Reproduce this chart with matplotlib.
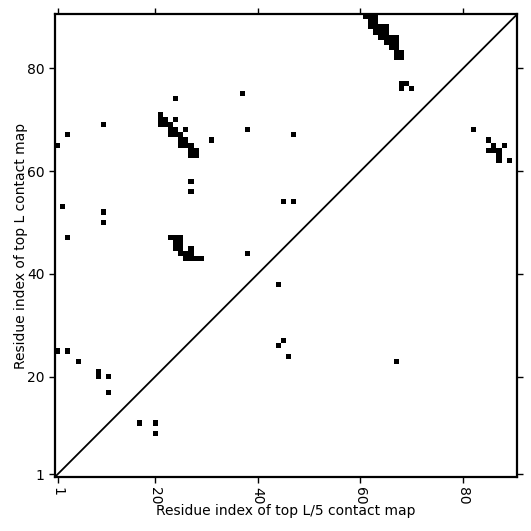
import numpy as np
import matplotlib
matplotlib.use('Agg')
import matplotlib.pyplot as plt

L = 90

# (x, y) residue pairs of the contact cells
cells_x = [1, 3, 10, 24, 37, 38, 31, 26, 24, 47, 45, 47, 27, 27, 2, 10, 10, 3, 38,
           1, 3, 5, 9, 9, 11, 11, 17, 20, 20, 44, 45, 44, 46, 67,
           82, 85, 86, 88, 85, 86, 87, 87, 87, 89,
           68, 69, 68, 70]
cells_y = [65, 67, 69, 74, 75, 68, 66, 68, 70, 67, 54, 54, 58, 56, 53, 52, 50, 47, 44,
           25, 25, 23, 21, 20, 20, 17, 11, 11, 9, 38, 27, 26, 24, 23,
           68, 66, 65, 65, 64, 64, 64, 63, 62, 62,
           77, 77, 76, 76]

# diagonal bands, one row (y) with its x cells
band_rows = {
    71: [21], 70: [21, 22], 69: [21, 22, 23], 68: [23, 24], 67: [23, 24, 25],
    66: [25, 26], 65: [25, 26, 27], 64: [27, 28], 63: [27, 28],
    47: [23, 24, 25], 46: [24, 25], 45: [24, 25, 27], 44: [25, 26, 27], 43: [26, 27, 28, 29],
    90: [61, 62, 63], 89: [62, 63], 88: [62, 63, 64, 65], 87: [63, 64, 65],
    86: [64, 65, 66, 67], 85: [65, 66, 67], 84: [66, 67], 83: [67, 68], 82: [67, 68],
}

cmap_mat = np.zeros((L, L))
for x, y in zip(cells_x, cells_y):
    cmap_mat[y - 1, x - 1] = 1
for y, xs in band_rows.items():
    for x in xs:
        cmap_mat[y - 1, x - 1] = 1

fig = plt.figure(figsize=(5.31, 5.31), dpi=100)
ax = fig.add_axes([0.1036, 0.1019, 0.87, 0.871])
ax.imshow(cmap_mat, cmap='Greys', origin='lower', interpolation='nearest',
          extent=(0.5, L + 0.5, 0.5, L + 0.5), vmin=0, vmax=1, aspect='auto')
ax.plot([0, L + 1], [0, L + 1], color='black', lw=1.3)
ax.set_xlim(0.5, L + 0.5)
ax.set_ylim(0.5, L + 0.5)

ticks = [1, 20, 40, 60, 80]
ax.set_xticks(ticks)
ax.set_yticks(ticks)
ax.set_xticklabels([str(t) for t in ticks], rotation=270)
ax.tick_params(direction='out', top=True, right=True, length=4, width=1, labelsize=10)
for s in ax.spines.values():
    s.set_linewidth(1.6)

ax.set_xlabel('Residue index of top L/5 contact map', fontsize=10, labelpad=-1)
ax.set_ylabel('Residue index of top L contact map', fontsize=10, labelpad=-1)

fig.savefig('out.png', dpi=100)
